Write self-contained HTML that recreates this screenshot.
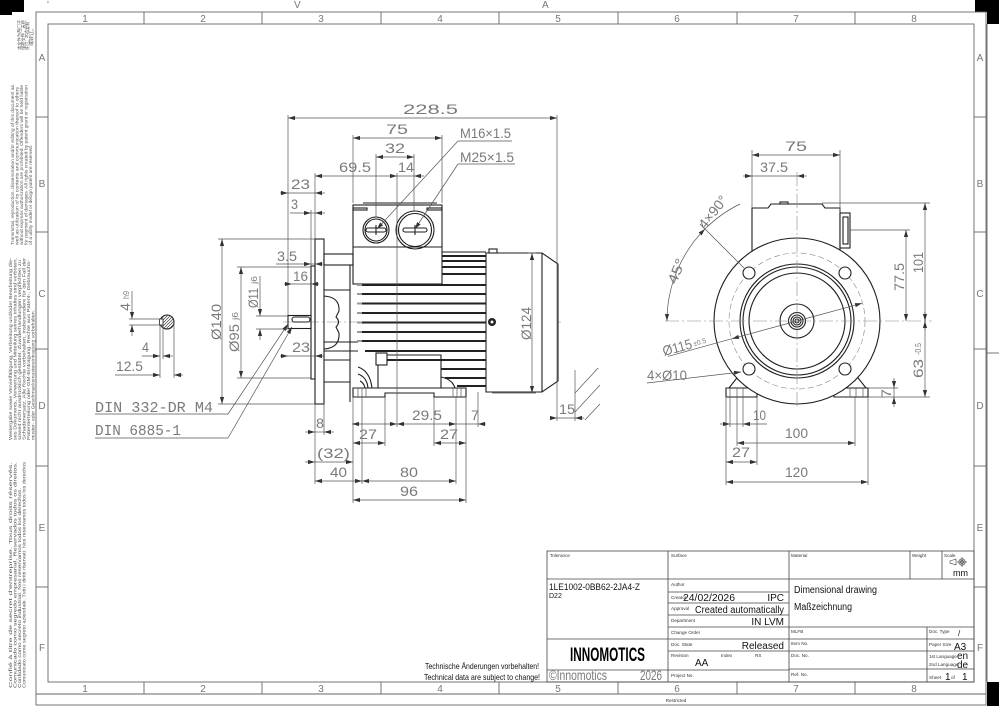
<!DOCTYPE html>
<html><head><meta charset="utf-8"><style>
html,body{margin:0;padding:0;background:#fff}
svg{display:block}
.o{stroke:#1e1e1e;stroke-width:1.1;fill:none}
.f{stroke:#1e1e1e;stroke-width:1.1;fill:#fff}
.d{stroke:#555;stroke-width:0.7;fill:none}
.c{stroke:#888;stroke-width:0.6;fill:none;stroke-dasharray:14 3 2 3}
.fr{stroke:#666;stroke-width:0.9;fill:none}
.tb{stroke:#444;stroke-width:0.8;fill:none}
.fin{stroke:#222;stroke-width:2}
text{font-family:"Liberation Sans",sans-serif}
.t{fill:#7a7a7a;font-size:14px}
.m{font-family:"Liberation Mono",monospace;fill:#7a7a7a;font-size:15px}
.g{fill:#777;font-size:10px}
.s{fill:#333;font-size:4.6px}
.v{fill:#111;font-size:10px}
.lm{fill:#555;font-size:4.4px}
</style></head><body>
<svg width="999" height="706" viewBox="0 0 999 706" xmlns="http://www.w3.org/2000/svg">
<defs>
<marker id="a" viewBox="0 0 10 10" refX="10" refY="5" markerWidth="7" markerHeight="7" markerUnits="userSpaceOnUse" orient="auto-start-reverse"><path d="M0 2L10 5L0 8z" fill="#333"/></marker>
<clipPath id="cp"><circle cx="167" cy="322" r="7"/></clipPath>
<clipPath id="hz"><rect x="575" y="368" width="25" height="52"/></clipPath>
</defs>
<rect x="0" y="0" width="999" height="706" fill="#fff"/>

<!-- corner marks -->
<path d="M0 0H24V12H12V15H0Z" fill="#000"/>
<path d="M975 0H999V24H987V12H975Z" fill="#000"/>
<rect x="987" y="682" width="12" height="24" fill="#000"/>
<text x="47" y="8" class="g" font-size="7">'</text>
<text x="294" y="8" class="g" font-size="8">V</text>
<text x="542" y="8" class="g" font-size="8">A</text>

<!-- frame -->
<rect x="36" y="12" width="950" height="693" class="fr"/>
<rect x="48" y="24" width="926" height="658" class="fr"/>
<line x1="36" y1="694" x2="986" y2="694" class="fr"/>
<line x1="987" y1="24" x2="987" y2="682" class="fr"/>
<g class="fr">
<line x1="144" y1="12" x2="144" y2="24"/><line x1="262" y1="12" x2="262" y2="24"/><line x1="381" y1="12" x2="381" y2="24"/><line x1="499" y1="12" x2="499" y2="24"/><line x1="618" y1="12" x2="618" y2="24"/><line x1="737" y1="12" x2="737" y2="24"/><line x1="855" y1="12" x2="855" y2="24"/>
<line x1="144" y1="682" x2="144" y2="694"/><line x1="262" y1="682" x2="262" y2="694"/><line x1="381" y1="682" x2="381" y2="694"/><line x1="499" y1="682" x2="499" y2="694"/><line x1="618" y1="682" x2="618" y2="694"/><line x1="737" y1="682" x2="737" y2="694"/><line x1="855" y1="682" x2="855" y2="694"/>
<line x1="36" y1="117" x2="48" y2="117"/><line x1="36" y1="232" x2="48" y2="232"/><line x1="36" y1="349" x2="48" y2="349"/><line x1="36" y1="466" x2="48" y2="466"/><line x1="36" y1="587" x2="48" y2="587"/>
<line x1="974" y1="117" x2="986" y2="117"/><line x1="974" y1="232" x2="986" y2="232"/><line x1="974" y1="349" x2="986" y2="349"/><line x1="974" y1="466" x2="986" y2="466"/><line x1="974" y1="587" x2="986" y2="587"/>
<line x1="986" y1="353" x2="999" y2="353"/>
</g>
<g class="g" text-anchor="middle">
<text x="85" y="22">1</text><text x="203" y="22">2</text><text x="321" y="22">3</text><text x="440" y="22">4</text><text x="558" y="22">5</text><text x="677" y="22">6</text><text x="796" y="22">7</text><text x="914" y="22">8</text>
<text x="85" y="692">1</text><text x="203" y="692">2</text><text x="321" y="692">3</text><text x="440" y="692">4</text><text x="558" y="692">5</text><text x="677" y="692">6</text><text x="796" y="692">7</text><text x="914" y="692">8</text>
<text x="42" y="61">A</text><text x="42" y="187">B</text><text x="42" y="297">C</text><text x="42" y="409">D</text><text x="42" y="531">E</text><text x="42" y="651">F</text>
<text x="980" y="61">A</text><text x="980" y="187">B</text><text x="980" y="297">C</text><text x="980" y="409">D</text><text x="980" y="531">E</text><text x="980" y="651">F</text>
</g>
<text x="676" y="702" class="s" text-anchor="middle">Restricted</text>

<!-- left margin texts -->
<g class="lm">
<text transform="translate(21,50) rotate(-90)" textLength="30" lengthAdjust="spacingAndGlyphs">本文件为西门子</text>
<text transform="translate(25,50) rotate(-90)" textLength="30" lengthAdjust="spacingAndGlyphs">保密文件，未经</text>
<text transform="translate(29,50) rotate(-90)" textLength="28" lengthAdjust="spacingAndGlyphs">许可，不得复制</text>
<text transform="translate(33,46) rotate(-90)" textLength="20" lengthAdjust="spacingAndGlyphs">或转让。</text>
<text transform="translate(14,245) rotate(-90)" textLength="160" lengthAdjust="spacingAndGlyphs">Transmittal, reproduction, dissemination and/or editing of this document as</text>
<text transform="translate(18.5,245) rotate(-90)" textLength="158" lengthAdjust="spacingAndGlyphs">well as utilization of its contents and communication thereof to others</text>
<text transform="translate(23,245) rotate(-90)" textLength="160" lengthAdjust="spacingAndGlyphs">without express authorization are prohibited. Offenders will be held liable</text>
<text transform="translate(27.5,245) rotate(-90)" textLength="160" lengthAdjust="spacingAndGlyphs">for payment of damages. All rights created by patent grant or registration</text>
<text transform="translate(32,245) rotate(-90)" textLength="100" lengthAdjust="spacingAndGlyphs">of a utility model or design patent are reserved.</text>
<text transform="translate(12,440) rotate(-90)" textLength="182" lengthAdjust="spacingAndGlyphs">Weitergabe sowie Vervielfältigung, Verbreitung und/oder Bearbeitung die-</text>
<text transform="translate(16.5,440) rotate(-90)" textLength="182" lengthAdjust="spacingAndGlyphs">ses Dokuments, Verwertung und Mitteilung seines Inhaltes sind verboten,</text>
<text transform="translate(21,440) rotate(-90)" textLength="180" lengthAdjust="spacingAndGlyphs">soweit nicht ausdrücklich gestattet. Zuwiderhandlungen verpflichten zu</text>
<text transform="translate(25.5,440) rotate(-90)" textLength="182" lengthAdjust="spacingAndGlyphs">Schadenersatz. Alle Rechte vorbehalten, insbesondere für den Fall der</text>
<text transform="translate(30,440) rotate(-90)" textLength="180" lengthAdjust="spacingAndGlyphs">Patenterteilung oder GM-Eintragung. Rechte aus Patent-, Gebrauchs-</text>
<text transform="translate(34.5,440) rotate(-90)" textLength="130" lengthAdjust="spacingAndGlyphs">muster- oder Geschmacksmustereintragung vorbehalten.</text>
<text transform="translate(12,688) rotate(-90)" textLength="226" lengthAdjust="spacingAndGlyphs">Confié à titre de secret d'entreprise. Tous droits réservés.</text>
<text transform="translate(16.5,688) rotate(-90)" textLength="226" lengthAdjust="spacingAndGlyphs">Comunicado como segredo empresarial. Reservados todos os direitos.</text>
<text transform="translate(21,688) rotate(-90)" textLength="200" lengthAdjust="spacingAndGlyphs">Confidado como secreto industrial. Nos reservamos todos los derechos.</text>
<text transform="translate(25.5,688) rotate(-90)" textLength="226" lengthAdjust="spacingAndGlyphs">Comunicato come segreto aziendale. Tutti i diritti riservati. Nos reservamos todos los derechos</text>
</g>

<!-- ============ SIDE VIEW ============ -->
<line x1="283" y1="322" x2="562" y2="322" class="c"/>
<rect x="288" y="315.5" width="23" height="13" class="o"/>
<rect x="292" y="317" width="18" height="5" rx="2.5" class="o" stroke-width="0.8"/>
<rect x="311" y="266" width="4" height="113" class="o"/>
<rect x="315" y="239" width="9" height="165" class="o"/>
<rect x="324" y="254" width="29" height="11" class="o" stroke-width="0.8"/>
<line x1="350" y1="265" x2="350" y2="402" class="o" stroke-width="0.8"/>
<path d="M324 296Q340 297 339 311L336 317Q341 322 336 327L339 333Q340 348 324 349" class="o" stroke-width="0.8"/>
<g class="o" stroke-width="0.8">
<line x1="324" y1="342" x2="358" y2="342"/><line x1="324" y1="351" x2="358" y2="351"/>
<line x1="324" y1="360" x2="350" y2="360"/><line x1="324" y1="382" x2="350" y2="382"/>
<line x1="324" y1="290" x2="350" y2="290"/>
</g>
<rect x="353" y="205" width="89" height="79" class="o"/>
<line x1="363" y1="203" x2="437" y2="203" class="o"/>
<line x1="353" y1="247" x2="442" y2="247" class="o"/>
<rect x="353" y="208" width="14" height="2" class="o" stroke-width="0.7"/>
<rect x="427" y="208" width="15" height="2" class="o" stroke-width="0.7"/>
<circle cx="376" cy="230" r="13" class="o"/>
<circle cx="376" cy="230" r="11" class="o" stroke-width="0.7"/>
<rect x="366" y="228" width="20" height="4" rx="2" class="o" stroke-width="0.8"/>
<line x1="376" y1="225" x2="376" y2="235" class="o"/>
<circle cx="415" cy="230" r="19" class="o"/>
<circle cx="415" cy="230" r="16.5" class="o" stroke-width="0.7"/>
<rect x="403" y="228" width="24" height="4" rx="2" class="o" stroke-width="0.8"/>
<line x1="415" y1="225" x2="415" y2="235" class="o"/>
<g class="fin">
<line x1="442" y1="256" x2="486" y2="256"/><line x1="442" y1="261" x2="486" y2="261"/><line x1="442" y1="267" x2="486" y2="267"/><line x1="442" y1="274" x2="486" y2="274"/>
<line x1="362" y1="285" x2="486" y2="285"/><line x1="362" y1="294" x2="486" y2="294"/><line x1="362" y1="303.5" x2="486" y2="303.5"/><line x1="362" y1="313" x2="486" y2="313"/><line x1="362" y1="322.5" x2="486" y2="322.5"/><line x1="362" y1="332" x2="486" y2="332"/><line x1="362" y1="341" x2="486" y2="341"/><line x1="365" y1="351" x2="486" y2="351"/>
<line x1="387" y1="360" x2="486" y2="360"/><line x1="441" y1="369" x2="486" y2="369"/><line x1="445" y1="378" x2="486" y2="378"/><line x1="457" y1="386" x2="486" y2="386"/>
</g>
<g stroke="#999" stroke-width="2">
<line x1="357" y1="285" x2="362" y2="285"/><line x1="357" y1="294" x2="362" y2="294"/><line x1="357" y1="303.5" x2="362" y2="303.5"/><line x1="357" y1="313" x2="362" y2="313"/><line x1="357" y1="322.5" x2="362" y2="322.5"/><line x1="357" y1="332" x2="362" y2="332"/><line x1="357" y1="341" x2="362" y2="341"/>
</g>
<line x1="442" y1="252" x2="486" y2="252" class="o" stroke-width="0.8"/>
<path d="M353 388H466V397H434V393H385V397H353Z" class="f"/>
<path d="M378 388V355H441V388" class="o"/>
<rect x="376" y="353" width="11" height="12" class="f"/>
<path d="M358 367Q370 371 372 388M358 374Q367 377 368 388M360 381Q364 383 365 388" class="o" stroke-width="0.8"/>
<path d="M441 377Q452 379 455 388" class="o" stroke-width="0.8"/>
<g class="d" stroke-width="0.6">
<line x1="358" y1="388" x2="358" y2="397"/><line x1="362" y1="388" x2="362" y2="397"/><line x1="366" y1="388" x2="366" y2="397"/>
<line x1="453" y1="388" x2="453" y2="397"/><line x1="457" y1="388" x2="457" y2="397"/><line x1="461" y1="388" x2="461" y2="397"/>
</g>
<path d="M486 253H542L558 264V381L542 392H486Z" class="f"/>
<line x1="542" y1="253" x2="542" y2="392" class="o"/>
<rect x="489" y="249" width="8" height="4" class="f" stroke-width="0.8"/>
<circle cx="492" cy="322" r="4" fill="#222"/><circle cx="492" cy="322" r="1.5" fill="#fff"/>

<g class="d">
<line x1="288" y1="115" x2="288" y2="315"/>
<line x1="557" y1="115" x2="557" y2="421"/>
<line x1="353" y1="135" x2="353" y2="203"/>
<line x1="442" y1="135" x2="442" y2="203"/>
<line x1="376" y1="154" x2="376" y2="217"/>
<line x1="414" y1="154" x2="414" y2="211"/>
<line x1="397" y1="173" x2="397" y2="427"/>
<line x1="315" y1="173" x2="315" y2="239"/>
<line x1="311" y1="210" x2="311" y2="266"/>
<line x1="315" y1="404" x2="315" y2="484"/>
<line x1="324" y1="404" x2="324" y2="435"/>
<line x1="353" y1="397" x2="353" y2="503"/>
<line x1="466" y1="397" x2="466" y2="503"/>
<line x1="362" y1="397" x2="362" y2="484"/>
<line x1="456" y1="397" x2="456" y2="484"/>
<line x1="385" y1="397" x2="385" y2="446"/>
<line x1="434" y1="397" x2="434" y2="446"/>
<line x1="478" y1="392" x2="478" y2="427"/>
<line x1="218" y1="239" x2="315" y2="239"/>
<line x1="218" y1="404" x2="315" y2="404"/>
<line x1="237" y1="267" x2="311" y2="267"/>
<line x1="237" y1="378" x2="311" y2="378"/>
<line x1="256" y1="316" x2="288" y2="316"/>
<line x1="256" y1="329" x2="292" y2="329"/>
<line x1="492" y1="393" x2="536" y2="393"/>
<line x1="528" y1="253" x2="536" y2="253"/>
<line x1="575" y1="370" x2="575" y2="421"/>

<line x1="288" y1="118" x2="557" y2="118" marker-start="url(#a)" marker-end="url(#a)"/>
<line x1="353" y1="138" x2="442" y2="138" marker-start="url(#a)" marker-end="url(#a)"/>
<line x1="376" y1="157" x2="414" y2="157" marker-start="url(#a)" marker-end="url(#a)"/>
<line x1="315" y1="176" x2="397" y2="176" marker-start="url(#a)" marker-end="url(#a)"/>
<line x1="397" y1="176" x2="414" y2="176"/>
<line x1="424" y1="176" x2="414" y2="176" marker-end="url(#a)"/>
<line x1="280" y1="193" x2="288" y2="193" marker-end="url(#a)"/>
<line x1="288" y1="193" x2="315" y2="193"/>
<line x1="325" y1="193" x2="315" y2="193" marker-end="url(#a)"/>
<line x1="290" y1="213" x2="311" y2="213" marker-end="url(#a)"/>
<line x1="311" y1="213" x2="315" y2="213"/>
<line x1="325" y1="213" x2="315" y2="213" marker-end="url(#a)"/>
<line x1="276" y1="264" x2="311" y2="264" marker-end="url(#a)"/>
<line x1="311" y1="264" x2="315" y2="264"/>
<line x1="323" y1="264" x2="315" y2="264" marker-end="url(#a)"/>
<line x1="284" y1="284" x2="292" y2="284" marker-end="url(#a)"/>
<line x1="292" y1="284" x2="311" y2="284"/>
<line x1="319" y1="284" x2="311" y2="284" marker-end="url(#a)"/>
<line x1="280" y1="356" x2="288" y2="356" marker-end="url(#a)"/>
<line x1="288" y1="356" x2="315" y2="356"/>
<line x1="325" y1="356" x2="315" y2="356" marker-end="url(#a)"/>
<line x1="222" y1="239" x2="222" y2="404" marker-start="url(#a)" marker-end="url(#a)"/>
<line x1="241" y1="267" x2="241" y2="378" marker-start="url(#a)" marker-end="url(#a)"/>
<line x1="260" y1="276" x2="260" y2="316" marker-end="url(#a)"/>
<line x1="260" y1="340" x2="260" y2="329" marker-end="url(#a)"/>
<line x1="532" y1="253" x2="532" y2="393" marker-start="url(#a)" marker-end="url(#a)"/>
<line x1="550" y1="418" x2="557" y2="418" marker-end="url(#a)"/>
<line x1="557" y1="418" x2="575" y2="418"/>
<line x1="584" y1="418" x2="575" y2="418" marker-end="url(#a)"/>
<line x1="352" y1="424" x2="397" y2="424" marker-start="url(#a)" marker-end="url(#a)"/>
<line x1="397" y1="424" x2="456" y2="424" marker-start="url(#a)" marker-end="url(#a)"/>
<line x1="456" y1="424" x2="478" y2="424"/>
<line x1="486" y1="424" x2="478" y2="424" marker-end="url(#a)"/>
<line x1="305" y1="432" x2="315" y2="432" marker-end="url(#a)"/>
<line x1="315" y1="432" x2="324" y2="432"/>
<line x1="334" y1="432" x2="324" y2="432" marker-end="url(#a)"/>
<line x1="353" y1="443" x2="385" y2="443" marker-start="url(#a)" marker-end="url(#a)"/>
<line x1="434" y1="443" x2="466" y2="443" marker-start="url(#a)" marker-end="url(#a)"/>
<line x1="305" y1="462" x2="315" y2="462" marker-end="url(#a)"/>
<line x1="315" y1="462" x2="353" y2="462" marker-end="url(#a)"/>
<line x1="315" y1="481" x2="362" y2="481" marker-start="url(#a)" marker-end="url(#a)"/>
<line x1="362" y1="481" x2="456" y2="481" marker-start="url(#a)" marker-end="url(#a)"/>
<line x1="353" y1="500" x2="466" y2="500" marker-start="url(#a)" marker-end="url(#a)"/>
<line x1="512" y1="141" x2="458" y2="141"/>
<line x1="458" y1="141" x2="377" y2="229" marker-end="url(#a)"/>
<line x1="515" y1="164" x2="458" y2="164"/>
<line x1="458" y1="164" x2="415" y2="229" marker-end="url(#a)"/>
<line x1="95" y1="414" x2="228" y2="414"/>
<line x1="228" y1="414" x2="288" y2="324" marker-end="url(#a)"/>
<line x1="95" y1="438" x2="228" y2="438"/>
<line x1="228" y1="438" x2="292" y2="327" marker-end="url(#a)"/>
</g>
<g clip-path="url(#hz)" class="d">
<line x1="575" y1="393" x2="600" y2="366"/><line x1="575" y1="412" x2="600" y2="385"/><line x1="583" y1="422" x2="600" y2="404"/>
</g>

<g class="t">
<text x="403" y="114" textLength="55" lengthAdjust="spacingAndGlyphs">228.5</text>
<text x="386" y="134" textLength="22" lengthAdjust="spacingAndGlyphs">75</text>
<text x="385" y="153" textLength="20" lengthAdjust="spacingAndGlyphs">32</text>
<text x="339" y="172" textLength="32" lengthAdjust="spacingAndGlyphs">69.5</text>
<text x="398" y="172" textLength="16" lengthAdjust="spacingAndGlyphs">14</text>
<text x="291" y="189" textLength="19" lengthAdjust="spacingAndGlyphs">23</text>
<text x="291" y="209" textLength="7" lengthAdjust="spacingAndGlyphs">3</text>
<text x="277" y="261" textLength="20" lengthAdjust="spacingAndGlyphs">3.5</text>
<text x="293" y="281" textLength="15" lengthAdjust="spacingAndGlyphs">16</text>
<text x="292" y="352" textLength="18" lengthAdjust="spacingAndGlyphs">23</text>
<text x="460" y="138" textLength="51" lengthAdjust="spacingAndGlyphs">M16×1.5</text>
<text x="460" y="162" textLength="54" lengthAdjust="spacingAndGlyphs">M25×1.5</text>
<text transform="translate(221,340) rotate(-90)" textLength="36" lengthAdjust="spacingAndGlyphs">Ø140</text>
<text transform="translate(239,352) rotate(-90)" textLength="28" lengthAdjust="spacingAndGlyphs">Ø95</text>
<text transform="translate(238,320) rotate(-90)" font-size="8" textLength="8" lengthAdjust="spacingAndGlyphs">j6</text>
<text transform="translate(258,308) rotate(-90)" textLength="20" lengthAdjust="spacingAndGlyphs">Ø11</text>
<text transform="translate(257,284) rotate(-90)" font-size="8" textLength="8" lengthAdjust="spacingAndGlyphs">j6</text>
<text transform="translate(531,340) rotate(-90)" textLength="33" lengthAdjust="spacingAndGlyphs">Ø124</text>
<text x="559" y="414" textLength="16" lengthAdjust="spacingAndGlyphs">15</text>
<text x="412" y="420" textLength="30" lengthAdjust="spacingAndGlyphs">29.5</text>
<text x="471" y="420" textLength="8" lengthAdjust="spacingAndGlyphs">7</text>
<text x="316" y="428" textLength="8" lengthAdjust="spacingAndGlyphs">8</text>
<text x="359" y="439" textLength="18" lengthAdjust="spacingAndGlyphs">27</text>
<text x="440" y="439" textLength="18" lengthAdjust="spacingAndGlyphs">27</text>
<text x="317" y="458" textLength="33" lengthAdjust="spacingAndGlyphs">(32)</text>
<text x="330" y="477" textLength="17" lengthAdjust="spacingAndGlyphs">40</text>
<text x="400" y="477" textLength="18" lengthAdjust="spacingAndGlyphs">80</text>
<text x="400" y="496" textLength="18" lengthAdjust="spacingAndGlyphs">96</text>
</g>
<text x="95" y="412" class="m" textLength="118" lengthAdjust="spacingAndGlyphs">DIN 332-DR M4</text>
<text x="95" y="435" class="m" textLength="86" lengthAdjust="spacingAndGlyphs">DIN 6885-1</text>

<circle cx="167" cy="322" r="7" class="o"/>
<g clip-path="url(#cp)" stroke="#444" stroke-width="0.7">
<line x1="155" y1="334" x2="179" y2="310"/><line x1="158" y1="334" x2="182" y2="310"/><line x1="161" y1="334" x2="185" y2="310"/><line x1="152" y1="334" x2="176" y2="310"/><line x1="149" y1="334" x2="173" y2="310"/><line x1="146" y1="334" x2="170" y2="310"/><line x1="164" y1="334" x2="188" y2="310"/>
</g>
<rect x="159.5" y="319" width="3.5" height="6" fill="#fff" stroke="#1e1e1e" stroke-width="0.8"/>
<g class="d">
<line x1="129" y1="319" x2="160" y2="319"/><line x1="129" y1="325" x2="160" y2="325"/>
<line x1="132" y1="291" x2="132" y2="319" marker-end="url(#a)"/>
<line x1="132" y1="336" x2="132" y2="325" marker-end="url(#a)"/>
<line x1="160" y1="325" x2="160" y2="378"/><line x1="163" y1="325" x2="163" y2="359"/><line x1="174" y1="322" x2="174" y2="378"/>
<line x1="142" y1="356" x2="160" y2="356" marker-end="url(#a)"/>
<line x1="173" y1="356" x2="163" y2="356" marker-end="url(#a)"/>
<line x1="115" y1="375" x2="160" y2="375" marker-end="url(#a)"/>
<line x1="183" y1="375" x2="174" y2="375" marker-end="url(#a)"/>
</g>
<g class="t">
<text transform="translate(130,311) rotate(-90)" textLength="8" lengthAdjust="spacingAndGlyphs">4</text>
<text transform="translate(129,299) rotate(-90)" font-size="8" textLength="8" lengthAdjust="spacingAndGlyphs">h9</text>
<text x="142" y="352" textLength="7" lengthAdjust="spacingAndGlyphs">4</text>
<text x="116" y="371" textLength="27" lengthAdjust="spacingAndGlyphs">12.5</text>
</g>

<!-- ============ FRONT VIEW ============ -->
<path d="M752 252V208H768L771 204H822L825 208H840V251" class="f"/>
<rect x="780" y="202" width="8" height="2" class="o" stroke-width="0.7"/>
<rect x="840" y="213" width="10" height="35" class="f"/>
<rect x="843" y="217" width="5" height="27" class="o" stroke-width="0.7"/>
<path d="M726 388H757V397H726Z" class="f"/>
<path d="M834 388H868V397H834Z" class="f"/>
<g class="d" stroke-width="0.6">
<line x1="730" y1="388" x2="730" y2="397"/><line x1="737" y1="388" x2="737" y2="397"/><line x1="743" y1="388" x2="743" y2="397"/>
<line x1="850" y1="388" x2="850" y2="397"/><line x1="856" y1="388" x2="856" y2="397"/><line x1="863" y1="388" x2="863" y2="397"/>
</g>
<path d="M729 388L740 374M866 388L855 374" class="o"/>
<circle cx="797" cy="321" r="83" class="f"/>
<circle cx="797" cy="321" r="68" fill="none" stroke="#888" stroke-width="0.6" stroke-dasharray="6 3"/>
<circle cx="797" cy="321" r="57" class="o"/>
<circle cx="797" cy="321" r="54" class="o"/>
<circle cx="797" cy="321" r="48" class="o"/>
<circle cx="797" cy="321" r="17" class="o"/>
<circle cx="797" cy="321" r="8.5" class="o"/>
<circle cx="797" cy="321" r="6" class="o" stroke-width="0.8"/>
<circle cx="797" cy="321" r="4" class="o" stroke-width="0.8"/>
<circle cx="797" cy="321" r="2" class="o" stroke-width="0.8"/>
<circle cx="749" cy="273" r="6" class="f"/>
<circle cx="845" cy="273" r="6" class="f"/>
<circle cx="749" cy="369" r="6" class="f"/>
<circle cx="845" cy="369" r="6" class="f"/>
<line x1="665" y1="321" x2="932" y2="321" class="c"/>
<line x1="797" y1="172" x2="797" y2="408" class="c"/>

<g class="d">
<line x1="752" y1="150" x2="752" y2="208"/>
<line x1="840" y1="150" x2="840" y2="213"/>
<line x1="822" y1="203" x2="930" y2="203"/>
<line x1="850" y1="230" x2="910" y2="230"/>
<line x1="868" y1="397" x2="930" y2="397"/>
<line x1="868" y1="388" x2="898" y2="388"/>
<line x1="752" y1="155" x2="840" y2="155" marker-start="url(#a)" marker-end="url(#a)"/>
<line x1="743" y1="176" x2="752" y2="176" marker-end="url(#a)"/>
<line x1="752" y1="176" x2="797" y2="176"/>
<line x1="807" y1="176" x2="797" y2="176" marker-end="url(#a)"/>
<line x1="925" y1="203" x2="925" y2="397" marker-start="url(#a)" marker-end="url(#a)"/>
<line x1="925" y1="321" x2="925" y2="330" marker-start="url(#a)"/>
<line x1="925" y1="321" x2="925" y2="312" marker-start="url(#a)"/>
<line x1="906" y1="230" x2="906" y2="321" marker-start="url(#a)" marker-end="url(#a)"/>
<line x1="894" y1="378" x2="894" y2="388" marker-end="url(#a)"/>
<line x1="894" y1="388" x2="894" y2="397"/>
<line x1="894" y1="407" x2="894" y2="397" marker-end="url(#a)"/>
<line x1="726" y1="397" x2="726" y2="485"/>
<line x1="730" y1="397" x2="730" y2="427"/>
<line x1="743" y1="397" x2="743" y2="427"/>
<line x1="737" y1="397" x2="737" y2="446"/>
<line x1="757" y1="397" x2="757" y2="465"/>
<line x1="855" y1="397" x2="855" y2="446"/>
<line x1="868" y1="397" x2="868" y2="485"/>
<line x1="720" y1="424" x2="730" y2="424" marker-end="url(#a)"/>
<line x1="730" y1="424" x2="743" y2="424"/>
<line x1="767" y1="424" x2="743" y2="424" marker-end="url(#a)"/>
<line x1="737" y1="443" x2="855" y2="443" marker-start="url(#a)" marker-end="url(#a)"/>
<line x1="726" y1="462" x2="757" y2="462" marker-start="url(#a)" marker-end="url(#a)"/>
<line x1="726" y1="482" x2="868" y2="482" marker-start="url(#a)" marker-end="url(#a)"/>
<path d="M667 321A130 130 0 0 1 705 229" marker-start="url(#a)" marker-end="url(#a)"/>
<path d="M705 229A130 130 0 0 1 740 204"/>
<line x1="744" y1="268" x2="700" y2="224"/>
<line x1="668" y1="356.4" x2="732" y2="338.7"/>
<line x1="797" y1="321" x2="732" y2="338.7" marker-end="url(#a)"/>
<line x1="797" y1="321" x2="862" y2="303.3" marker-end="url(#a)"/>
<line x1="647" y1="383" x2="741" y2="372" marker-end="url(#a)"/>
</g>
<g class="t">
<text x="785" y="151" textLength="22" lengthAdjust="spacingAndGlyphs">75</text>
<text x="760" y="172" textLength="28" lengthAdjust="spacingAndGlyphs">37.5</text>
<text transform="translate(923,273) rotate(-90)" textLength="21" lengthAdjust="spacingAndGlyphs">101</text>
<text transform="translate(904,291) rotate(-90)" textLength="28" lengthAdjust="spacingAndGlyphs">77.5</text>
<text transform="translate(923,378) rotate(-90)" textLength="19" lengthAdjust="spacingAndGlyphs">63</text>
<text transform="translate(921,355) rotate(-90)" font-size="8" textLength="12" lengthAdjust="spacingAndGlyphs">-0.5</text>
<text transform="translate(891,398) rotate(-90)" textLength="9" lengthAdjust="spacingAndGlyphs">7</text>
<text x="753" y="420" textLength="13" lengthAdjust="spacingAndGlyphs">10</text>
<text x="785" y="438" textLength="23" lengthAdjust="spacingAndGlyphs">100</text>
<text x="732" y="457" textLength="18" lengthAdjust="spacingAndGlyphs">27</text>
<text x="785" y="477" textLength="23" lengthAdjust="spacingAndGlyphs">120</text>
<text transform="translate(676,285) rotate(-68)" textLength="26" lengthAdjust="spacingAndGlyphs">45°</text>
<text transform="translate(705,230) rotate(-52)" textLength="38" lengthAdjust="spacingAndGlyphs">4×90°</text>
<text transform="translate(664,356) rotate(-15)" textLength="30" lengthAdjust="spacingAndGlyphs">Ø115</text>
<text transform="translate(694,346) rotate(-15)" font-size="7" textLength="13" lengthAdjust="spacingAndGlyphs">±0.5</text>
<text x="647" y="380" textLength="40" lengthAdjust="spacingAndGlyphs">4×Ø10</text>
</g>

<!-- ============ TITLE BLOCK ============ -->
<g class="tb">
<rect x="547" y="551" width="427" height="131"/>
<line x1="668" y1="551" x2="668" y2="682"/>
<line x1="789" y1="551" x2="789" y2="682"/>
<line x1="910" y1="551" x2="910" y2="579"/>
<line x1="942" y1="551" x2="942" y2="579"/>
<line x1="547" y1="579" x2="974" y2="579"/>
<line x1="547" y1="639" x2="668" y2="639"/>
<line x1="547" y1="670" x2="668" y2="670"/>
<line x1="668" y1="592" x2="789" y2="592"/>
<line x1="668" y1="603" x2="789" y2="603"/>
<line x1="668" y1="615" x2="789" y2="615"/>
<line x1="668" y1="627" x2="789" y2="627"/>
<line x1="668" y1="639" x2="789" y2="639"/>
<line x1="668" y1="651" x2="789" y2="651"/>
<line x1="668" y1="670" x2="789" y2="670"/>
<line x1="789" y1="627" x2="974" y2="627"/>
<line x1="789" y1="639" x2="974" y2="639"/>
<line x1="789" y1="651" x2="974" y2="651"/>
<line x1="789" y1="669" x2="974" y2="669"/>
<line x1="927" y1="627" x2="927" y2="682"/>
</g>
<g class="s">
<text x="550" y="557">Tolerance</text><text x="671" y="557">Surface</text><text x="791" y="557">Material</text><text x="912" y="557">Weight</text><text x="944" y="557">Scale</text>
<text x="671" y="586">Author</text><text x="671" y="599">Creator</text><text x="671" y="610">Approval</text><text x="671" y="622">Department</text><text x="671" y="634">Change Order</text><text x="671" y="646">Doc. State</text><text x="671" y="657">Revision</text><text x="721" y="657">Index</text><text x="755" y="657">RS</text><text x="671" y="677">Project No.</text>
<text x="791" y="633">MLFB</text><text x="791" y="645">Item No.</text><text x="791" y="657">Doc. No.</text><text x="791" y="676">Ref. No.</text>
<text x="929" y="633">Doc. Type</text><text x="929" y="646">Paper Size</text><text x="929" y="658">1st Language</text><text x="929" y="666">2nd Language</text><text x="929" y="679">Sheet</text><text x="951" y="679">of</text>
</g>
<g stroke="#333" stroke-width="0.6" fill="none">
<path d="M950 561L956 559V565L950 563Z"/>
<circle cx="962" cy="562" r="3.2"/><circle cx="962" cy="562" r="1.6"/>
<line x1="957" y1="562" x2="967" y2="562"/><line x1="962" y1="557" x2="962" y2="567"/>
</g>
<g class="v">
<text x="953" y="576" font-size="9">mm</text>
<text x="549" y="590" font-size="9.5" textLength="91" lengthAdjust="spacingAndGlyphs">1LE1002-0BB62-2JA4-Z</text>
<text x="549" y="598" font-size="7">D22</text>
<text x="683" y="601" textLength="52" lengthAdjust="spacingAndGlyphs">24/02/2026</text>
<text x="784" y="601" text-anchor="end">IPC</text>
<text x="784" y="613" text-anchor="end" textLength="89" lengthAdjust="spacingAndGlyphs">Created automatically</text>
<text x="784" y="625" text-anchor="end">IN LVM</text>
<text x="784" y="649" text-anchor="end">Released</text>
<text x="695" y="666">AA</text>
<text x="794" y="593" textLength="83" lengthAdjust="spacingAndGlyphs">Dimensional drawing</text>
<text x="794" y="610" textLength="58" lengthAdjust="spacingAndGlyphs">Maßzeichnung</text>
<text x="958" y="636" font-size="8">/</text>
<text x="954" y="650">A3</text>
<text x="957" y="659">en</text>
<text x="957" y="668">de</text>
<text x="945" y="680">1</text>
<text x="962" y="680">1</text>
</g>
<text x="570" y="661" font-size="19" font-weight="bold" fill="#000" textLength="75" lengthAdjust="spacingAndGlyphs">INNOMOTICS</text>
<text x="549" y="680" class="t" font-size="11" textLength="58" lengthAdjust="spacingAndGlyphs">©Innomotics</text>
<text x="640" y="680" class="t" font-size="11" textLength="22" lengthAdjust="spacingAndGlyphs">2026</text>
<text x="425" y="669" font-size="8.5" fill="#111" textLength="114" lengthAdjust="spacingAndGlyphs">Technische Änderungen vorbehalten!</text>
<text x="424" y="680" font-size="8.5" fill="#111" textLength="116" lengthAdjust="spacingAndGlyphs">Technical data are subject to change!</text>
</svg>
</body></html>
